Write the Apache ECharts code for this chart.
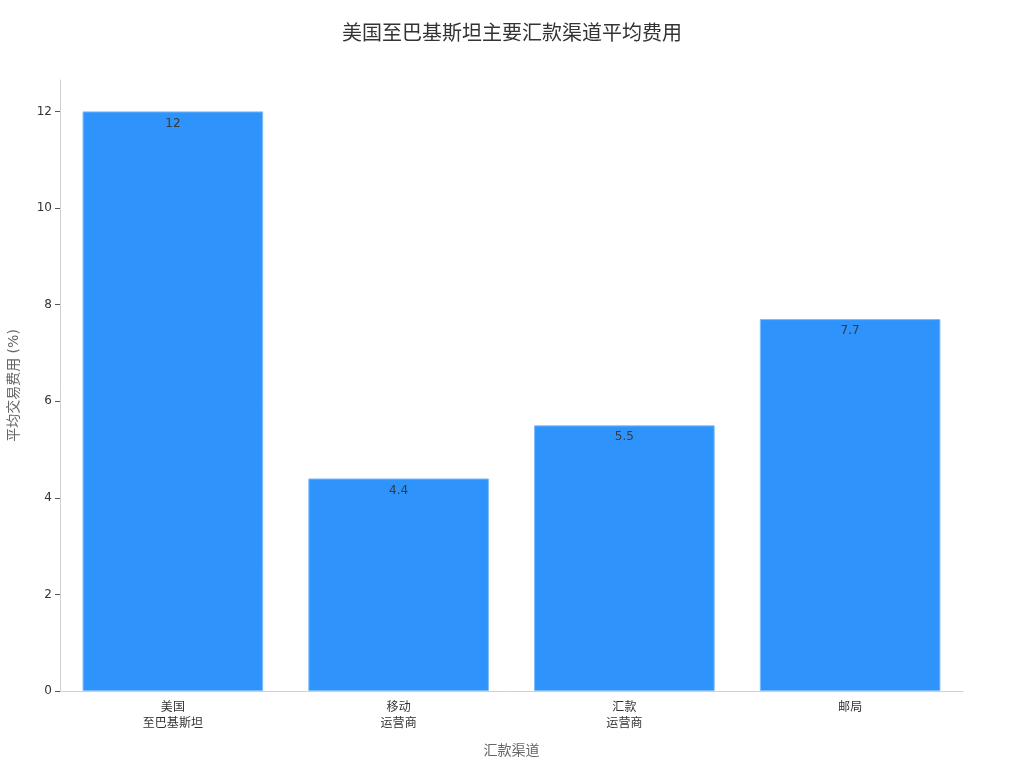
<!DOCTYPE html>
<html><head><meta charset="utf-8">
<script src="https://cdn.jsdelivr.net/npm/echarts@6/dist/echarts.min.js"></script>
<style>html,body{margin:0;padding:0;background:#fff}#c{width:1024px;height:768px}</style>
</head><body><div id="c"></div>
<script>
const categories = ['美国\n至巴基斯坦', '移动\n运营商', '汇款\n运营商', '邮局'];
const fees = [12, 4.4, 5.5, 7.7];
const yTicks = [0, 2, 4, 6, 8, 10, 12];

const chart = echarts.init(document.getElementById('c'));
const font = '"DejaVu Sans", "Noto Sans CJK SC", sans-serif';
chart.setOption({
  backgroundColor: '#fff',
  animation: false,
  title: {
    text: '美国至巴基斯坦主要汇款渠道平均费用',
    left: 'center', top: 20,
    textStyle: { fontSize: 20, fontWeight: 'normal', color: '#333', fontFamily: font }
  },
  grid: { left: 60, right: 61, top: 80, bottom: 77, containLabel: false, outerBoundsMode: 'none' },
  xAxis: {
    type: 'category',
    data: categories,
    name: '汇款渠道',
    nameLocation: 'middle',
    nameGap: 53,
    nameTextStyle: { fontSize: 14, color: '#666', fontFamily: font },
    axisLine: { lineStyle: { color: '#d0d0d0' } },
    axisTick: { alignWithLabel: true, length: 5, lineStyle: { color: '#555' } },
    axisLabel: { fontSize: 12, color: '#333', lineHeight: 16, margin: 9, fontFamily: font }
  },
  yAxis: {
    type: 'value',
    min: 0, max: 12.65,
    name: '平均交易费用 (%)',
    nameLocation: 'middle',
    nameGap: 39,
    nameTextStyle: { fontSize: 14, color: '#666', fontFamily: font },
    axisLine: { show: true, lineStyle: { color: '#d0d0d0' } },
    axisTick: { show: true, length: 5, lineStyle: { color: '#555' }, customValues: yTicks },
    splitLine: { show: false },
    axisLabel: { fontSize: 12, color: '#333', margin: 8, fontFamily: font, customValues: yTicks }
  },
  series: [{
    type: 'bar',
    data: fees,
    barCategoryGap: '20%',
    itemStyle: { color: '#2E93FA', borderColor: '#7DBBFB', borderWidth: 1 },
    label: {
      show: true, position: 'insideTop', distance: 6,
      color: '#3a3a3a', fontSize: 12, fontFamily: font
    }
  }]
});
</script></body></html>
